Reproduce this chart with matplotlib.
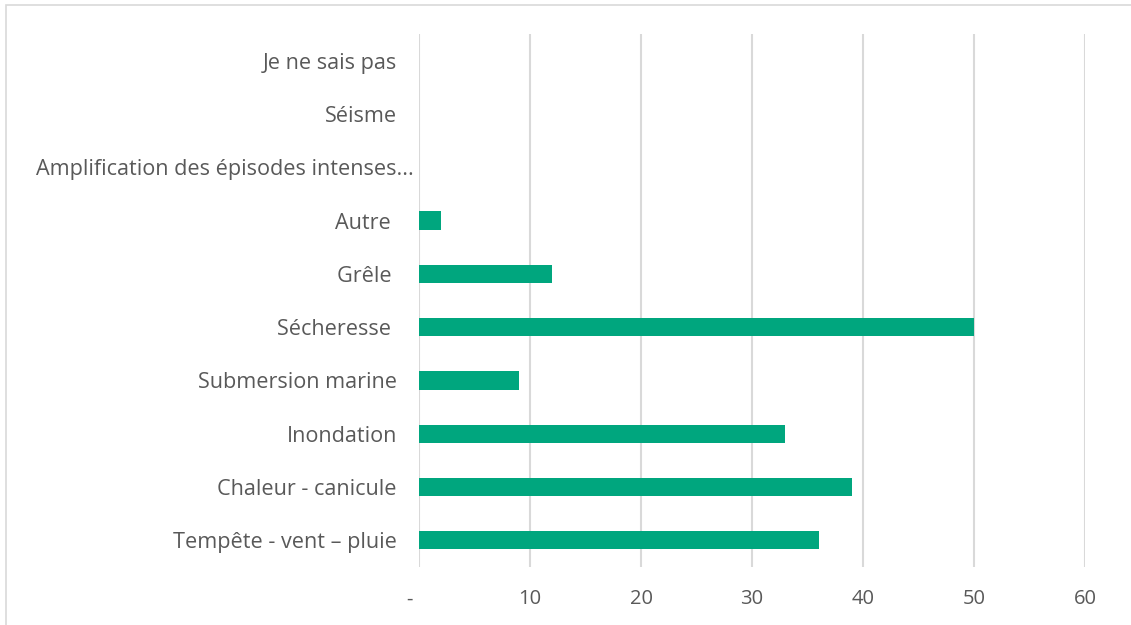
#!/usr/bin/env python3
"""
Horizontal bar chart - types of climate hazards
"""

import matplotlib
matplotlib.use("Agg")
import matplotlib.pyplot as plt
import matplotlib.patches as patches
import matplotlib.transforms as mtransforms

# Data (bottom to top)
categories = [
    "Tempête - vent – pluie",
    "Chaleur - canicule",
    "Inondation",
    "Submersion marine",
    "Sécheresse ",
    "Grêle ",
    "Autre ",
    "Amplification des épisodes intenses...",
    "Séisme",
    "Je ne sais pas",
]
values = [36, 39, 33, 9, 50, 12, 2, 0, 0, 0]
xticks = [0, 10, 20, 30, 40, 50, 60]
xtick_labels = ["-", "10", "20", "30", "40", "50", "60"]

BAR_COLOR = "#00A67E"
TEXT_COLOR = "#595959"
GRID_COLOR = "#D9D9D9"

plt.rcParams["font.family"] = ["Open Sans", "DejaVu Sans"]

fig = plt.figure(figsize=(11.31, 6.25), dpi=100)
ax = fig.add_axes([0.3705, 0.0928, 0.5889, 0.8528])

y = range(len(categories))
ax.barh(y, values, height=0.34, color=BAR_COLOR, linewidth=0)

ax.set_xlim(0, 60)
ax.set_ylim(-0.5, len(categories) - 0.5)
ax.set_xticks(xticks)
ax.set_xticklabels(xtick_labels)
ax.set_yticks(list(y))
ax.set_yticklabels(categories)

ax.tick_params(axis="y", length=0, labelsize=15.6, labelcolor=TEXT_COLOR, pad=16)
ax.tick_params(axis="x", length=0, labelsize=14.5, labelcolor=TEXT_COLOR, pad=16)


def shift(label, dx_px):
    label.set_transform(label.get_transform() +
                        mtransforms.ScaledTranslation(dx_px / 100, 0, fig.dpi_scale_trans))


# the "-" for zero sits a bit left of its gridline
shift(ax.get_xticklabels()[0], -10)
# the truncated long label runs past the others
shift(ax.get_yticklabels()[7], 17)

ax.grid(axis="x", color=GRID_COLOR, linewidth=1.5)
ax.set_axisbelow(True)
for side in ["top", "right", "bottom", "left"]:
    ax.spines[side].set_visible(False)

# Outer chart frame (only top and left edge visible)
frame = patches.Rectangle((6 / 1131, -0.1), 1.2, 1.1 - 5 / 625,
                          transform=fig.transFigure, fill=False,
                          edgecolor=GRID_COLOR, linewidth=1.2)
fig.patches.append(frame)

fig.savefig("out.png", dpi=100)
